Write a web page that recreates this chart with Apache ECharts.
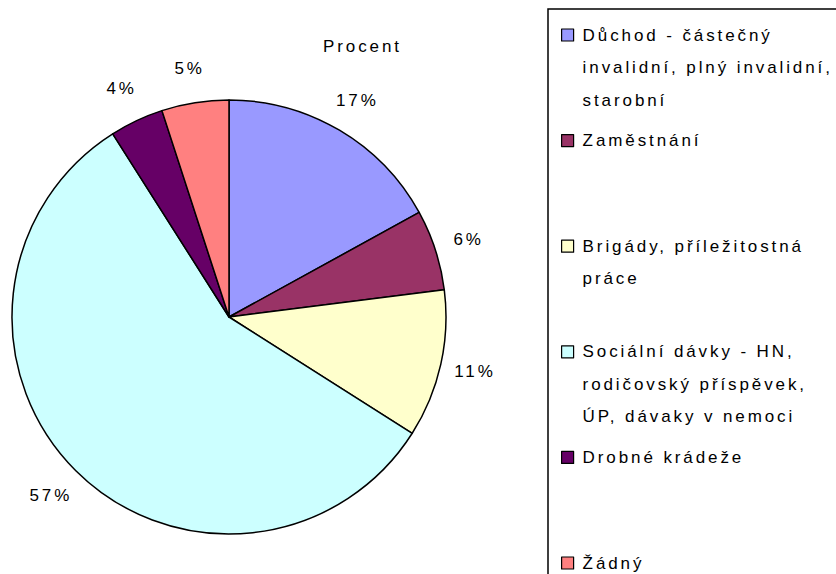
<!DOCTYPE html>
<html>
<head>
<meta charset="utf-8">
<script src="https://cdn.jsdelivr.net/npm/echarts@6/dist/echarts.min.js"></script>
<style>
  html,body{margin:0;padding:0;background:#fff;}
  #main{width:836px;height:574px;}
  /* Excel-like wide letter spacing */
  #main text{letter-spacing:2.9px;}
</style>
</head>
<body>
<div id="main"></div>
<script>
(function(echarts){
  // categories
  var categories = [
    'Důchod - částečný invalidní, plný invalidní, starobní',
    'Zaměstnání',
    'Brigády, příležitostná práce',
    'Sociální dávky - HN, rodičovský příspěvek, ÚP, dávaky v nemoci',
    'Drobné krádeže',
    'Žádný'
  ];
  // legend lines as wrapped in the picture
  var legendLines = [
    ['Důchod - částečný', 'invalidní, plný invalidní,', 'starobní'],
    ['Zaměstnání'],
    ['Brigády, příležitostná', 'práce'],
    ['Sociální dávky - HN,', 'rodičovský příspěvek,', 'ÚP, dávaky v nemoci'],
    ['Drobné krádeže'],
    ['Žádný']
  ];
  // percent values
  var values = [17, 6, 11, 57, 4, 5];
  var colors = ['#9999FF', '#993366', '#FFFFCC', '#CCFFFF', '#660066', '#FF8080'];

  var fontFamily = '"Liberation Sans", Arial, sans-serif';
  var lineH = 32.5;

  // data for pie
  var pieData = categories.map(function(name, i){
    return {name: name, value: values[i], itemStyle: {color: colors[i]}};
  });
  var labelData = categories.map(function(name, i){
    return {name: name, value: values[i]};
  });

  // legend text: 2 blank lines + 3 lines so the first line sits next to the icon
  function legendText(name){
    var idx = categories.indexOf(name);
    var lines = ['', ''].concat(legendLines[idx]);
    while(lines.length < 5){ lines.push(''); }
    return lines.join('\n');
  }

  var option = {
    backgroundColor: '#fff',
    animation: false,
    title: {
      text: 'Procent',
      left: 323,
      top: 38,
      padding: 0,
      textStyle: {fontSize: 17, fontWeight: 'normal', color: '#000', fontFamily: fontFamily}
    },
    legend: {
      orient: 'vertical',
      left: 556,
      top: 35 - 5 - 2.5 * lineH,
      height: 2000,
      padding: 5,
      itemWidth: 12,
      itemHeight: 12,
      itemGap: 105.6 - 5 * lineH,
      icon: 'rect',
      selectedMode: false,
      data: categories,
      formatter: legendText,
      itemStyle: {borderColor: '#000', borderWidth: 1.2},
      textStyle: {fontSize: 17, lineHeight: lineH, color: '#000', fontFamily: fontFamily, padding: [0, 0, 0, 4]}
    },
    graphic: [{
      type: 'rect',
      shape: {x: 548, y: 9, width: 400, height: 700},
      style: {fill: 'none', stroke: '#000', lineWidth: 1.5},
      silent: true
    }],
    series: [
      {
        type: 'pie',
        center: [229, 317],
        radius: 217,
        startAngle: 90,
        clockwise: true,
        silent: true,
        itemStyle: {borderColor: '#000', borderWidth: 1.5},
        label: {show: false},
        labelLine: {show: false},
        data: pieData
      },
      {
        // transparent ring just to carry the percent labels
        type: 'pie',
        center: [229, 317],
        radius: [230, 268],
        startAngle: 90,
        clockwise: true,
        silent: true,
        itemStyle: {color: 'transparent', borderWidth: 0},
        label: {
          show: true,
          position: 'inside',
          rotate: 0,
          formatter: '{c}%',
          fontSize: 17,
          color: '#000',
          fontFamily: fontFamily
        },
        labelLine: {show: false},
        data: labelData
      }
    ]
  };

  var myChart = echarts.init(document.getElementById('main'), null, {renderer: 'svg'});
  myChart.setOption(option);
})(echarts);
</script>
</body>
</html>
